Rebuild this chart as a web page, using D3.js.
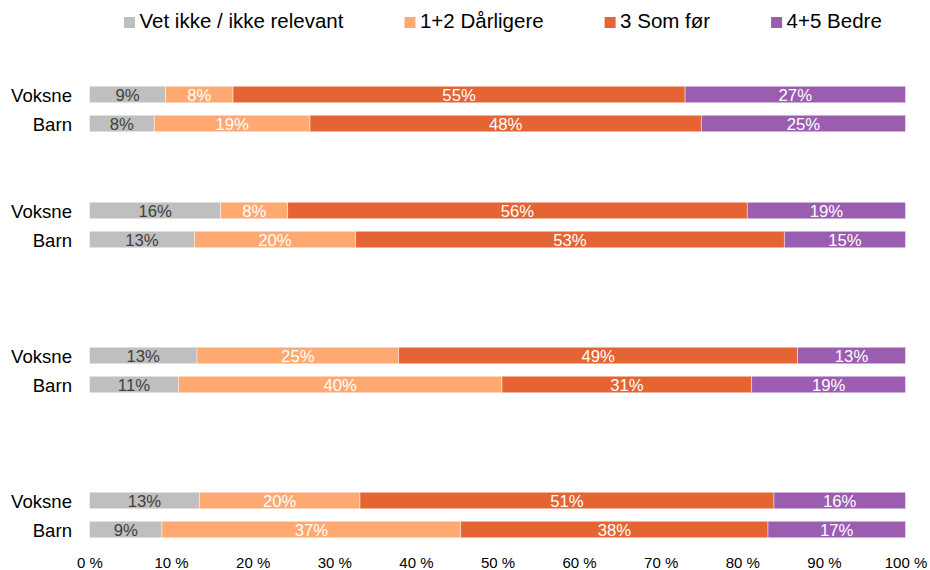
<!DOCTYPE html>
<html>
<head>
<meta charset="utf-8">
<script src="https://cdn.jsdelivr.net/npm/d3@7"></script>
<style>
  html, body { margin: 0; padding: 0; background: #fff; }
  svg { display: block; font-family: "Liberation Sans", Arial, Helvetica, sans-serif; }
</style>
</head>
<body>
<svg id="chart" width="930" height="570"></svg>
<script>
// Answer categories, in stacking order
const series = ["Vet ikke / ikke relevant", "1+2 Dårligere", "3 Som før", "4+5 Bedre"];
const seriesColors = ["#BFBFBF", "#FDA971", "#E46434", "#9B5DAF"];

// Respondent rows, two per block (Voksne, Barn) in four blocks
const rowLabels = ["Voksne", "Barn", "Voksne", "Barn", "Voksne", "Barn", "Voksne", "Barn"];

// Shares in percent, one value per row
const vetIkke    = [9.34, 7.94, 16.08, 12.85, 13.17, 10.89, 13.46, 8.88];
const darligere  = [8.25, 19.08, 8.21, 19.77, 24.72, 39.66, 19.69, 36.61];
const somFor     = [55.40, 47.96, 56.32, 52.53, 48.89, 30.60, 50.73, 37.66];
const bedre      = [27.01, 25.02, 19.39, 14.85, 13.22, 18.85, 16.12, 16.85];

// Axis ticks
const tickValues = [0, 0.1, 0.2, 0.3, 0.4, 0.5, 0.6, 0.7, 0.8, 0.9, 1];

// Blocks begin at these category slots; empty slots separate the blocks
const blockStart = [0, 4, 9, 14];
const slotCount = 16;

const valueArrays = [vetIkke, darligere, somFor, bedre];
const rows = rowLabels.map((label, i) => {
  const r = { id: i, label, slot: blockStart[Math.floor(i / 2)] + (i % 2) };
  series.forEach((s, k) => { r[s] = valueArrays[k][i]; });
  return r;
});

const svg = d3.select("#chart");

const x = d3.scaleLinear().domain([0, 1]).range([89.5, 905.5]);
const y = d3.scaleBand()
  .domain(d3.range(slotCount))
  .range([80, 544])
  .paddingInner(0.43)
  .paddingOuter(0.215);
const color = d3.scaleOrdinal().domain(series).range(seriesColors);

const stacked = d3.stack().keys(series).offset(d3.stackOffsetExpand)(rows);

// Bars
const layer = svg.append("g").selectAll("g")
  .data(stacked)
  .join("g")
  .attr("fill", d => color(d.key));

layer.selectAll("rect")
  .data(d => d)
  .join("rect")
  .attr("x", d => x(d[0]))
  .attr("y", d => y(d.data.slot))
  .attr("width", d => x(d[1]) - x(d[0]))
  .attr("height", y.bandwidth())
  .attr("stroke", "#fff")
  .attr("stroke-width", 0.75)
  .attr("stroke-opacity", 0.6);

// Value labels
const fmt = v => Math.round(v) + "%";
svg.append("g").selectAll("g")
  .data(stacked)
  .join("g")
  .attr("fill", (d, i) => i === 0 ? "#404040" : "#ffffff")
  .selectAll("text")
  .data(d => d.map(p => ({ p, key: d.key })))
  .join("text")
  .attr("x", d => (x(d.p[0]) + x(d.p[1])) / 2)
  .attr("y", d => y(d.p.data.slot) + y.bandwidth() / 2 + 6.5)
  .attr("text-anchor", "middle")
  .attr("font-size", "16.7px")
  .text(d => fmt(d.p.data[d.key]));

// Row labels
svg.append("g").selectAll("text")
  .data(rows)
  .join("text")
  .attr("x", 72)
  .attr("y", d => y(d.slot) + y.bandwidth() / 2 + 7)
  .attr("text-anchor", "end")
  .attr("font-size", "18.6px")
  .attr("fill", "#000")
  .text(d => d.label);

// X axis
const axis = svg.append("g")
  .attr("transform", "translate(0,552.5)")
  .call(d3.axisBottom(x)
    .tickValues(tickValues)
    .tickSize(0)
    .tickPadding(0)
    .tickFormat(d => Math.round(d * 100) + " %"));
axis.select(".domain").remove();
axis.selectAll("text")
  .attr("y", 0)
  .attr("dy", "1em")
  .attr("font-size", "15px")
  .attr("font-family", "Liberation Sans, Arial, sans-serif")
  .attr("fill", "#000");

// Legend
const legend = svg.append("g");
let lx = 124;
series.forEach(s => {
  const item = legend.append("g").attr("transform", `translate(${lx},0)`);
  item.append("rect")
    .attr("x", 0).attr("y", 17)
    .attr("width", 11).attr("height", 11)
    .attr("fill", color(s));
  const t = item.append("text")
    .attr("x", 15.5).attr("y", 28.3)
    .attr("font-size", "20.5px")
    .attr("fill", "#000")
    .text(s);
  lx += 15.5 + t.node().getComputedTextLength() + 61;
});
</script>
</body>
</html>
